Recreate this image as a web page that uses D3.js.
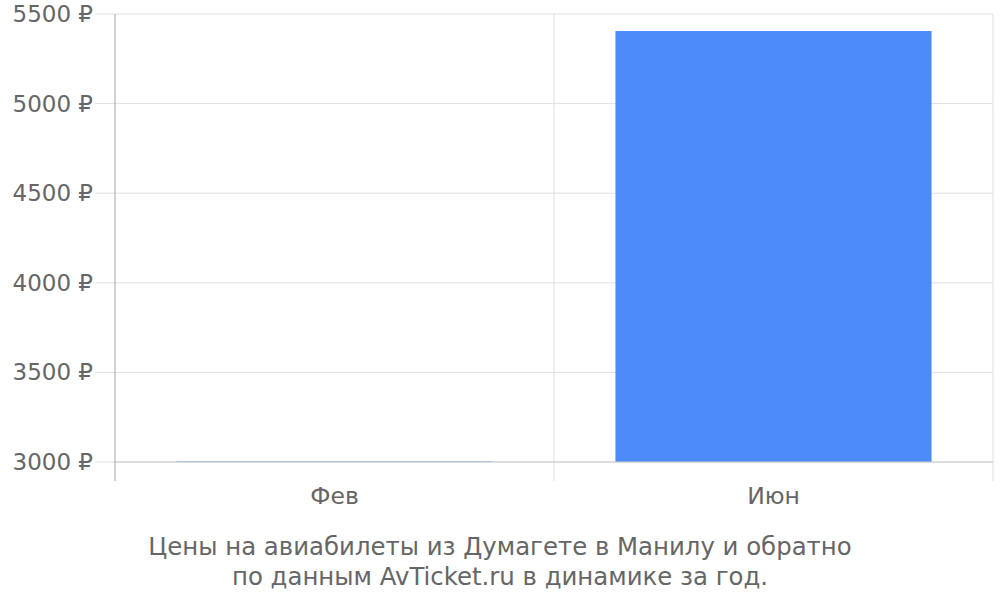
<!DOCTYPE html>
<html>
<head>
<meta charset="UTF-8">
<title>Цены на авиабилеты</title>
<style>
  body { margin: 0; background: #fff; }
  text { font-family: "DejaVu Sans", sans-serif; fill: #666; }
  .grid line { stroke: #e0e0e0; stroke-width: 1; }
</style>
</head>
<body>
<div class="chart"></div>
<script src="https://d3js.org/d3.v7.min.js"></script>
<script>
var months = ["Фев", "Июн"];
var prices = [3003, 5405];
var yTicks = [3000, 3500, 4000, 4500, 5000, 5500];
var titleLines = ["Цены на авиабилеты из Думагете в Манилу и обратно",
                  "по данным AvTicket.ru в динамике за год."];

var w = 1000, h = 600;
var pLeft = 115, pRight = 993, pTop = 14, pBottom = 462;

var svg = d3.select("div.chart").append("svg")
  .attr("width", w).attr("height", h);

var x = d3.scaleBand().domain(months).range([pLeft, pRight])
  .paddingInner(0).paddingOuter(0);
var y = d3.scaleLinear().domain([3000, 5500]).range([pBottom, pTop]);

/* horizontal grid + labels */
svg.append("g").attr("class", "grid").selectAll("line").data(yTicks).enter().append("line")
  .attr("x1", 95).attr("x2", pRight)
  .attr("y1", function(d){ return y(d); })
  .attr("y2", function(d){ return y(d); });
svg.append("g").selectAll("text").data(yTicks).enter().append("text")
  .attr("x", 93).attr("y", function(d){ return y(d); })
  .attr("dy", "0.35em").attr("text-anchor", "end")
  .style("font-size", "23px")
  .text(function(d){ return d + " ₽"; });

/* vertical grid at band edges */
var edges = months.map(function(m){ return x(m); }).concat([pRight]);
svg.append("g").attr("class", "grid").selectAll("line").data(edges.slice(1)).enter().append("line")
  .attr("x1", function(d){ return d; }).attr("x2", function(d){ return d; })
  .attr("y1", pTop).attr("y2", 481);

/* bars */
var pad = 0.14 * x.bandwidth();
svg.append("g").selectAll("rect").data(months).enter().append("rect")
  .attr("x", function(d){ return x(d) + pad; })
  .attr("width", x.bandwidth() - 2 * pad)
  .attr("y", function(d, i){ return y(prices[i]); })
  .attr("height", function(d, i){ return pBottom - y(prices[i]); })
  .attr("fill", "#4d8afa");

/* axes lines */
svg.append("line").attr("x1", pLeft).attr("x2", pRight)
  .attr("y1", pBottom).attr("y2", pBottom)
  .attr("stroke", "#cccccc");
svg.append("line").attr("x1", pLeft).attr("x2", pLeft)
  .attr("y1", pTop).attr("y2", 481)
  .attr("stroke", "#a6a6a6");

/* x labels */
svg.append("g").selectAll("text").data(months).enter().append("text")
  .attr("x", function(d){ return x(d) + x.bandwidth() / 2; })
  .attr("y", 504).attr("text-anchor", "middle")
  .style("font-size", "23.5px")
  .text(function(d){ return d; });

/* title */
svg.append("g").selectAll("text").data(titleLines).enter().append("text")
  .attr("x", 500).attr("y", function(d, i){ return 555 + i * 30; })
  .attr("text-anchor", "middle")
  .style("font-size", "24.4px")
  .text(function(d){ return d; });
</script>
</body>
</html>
